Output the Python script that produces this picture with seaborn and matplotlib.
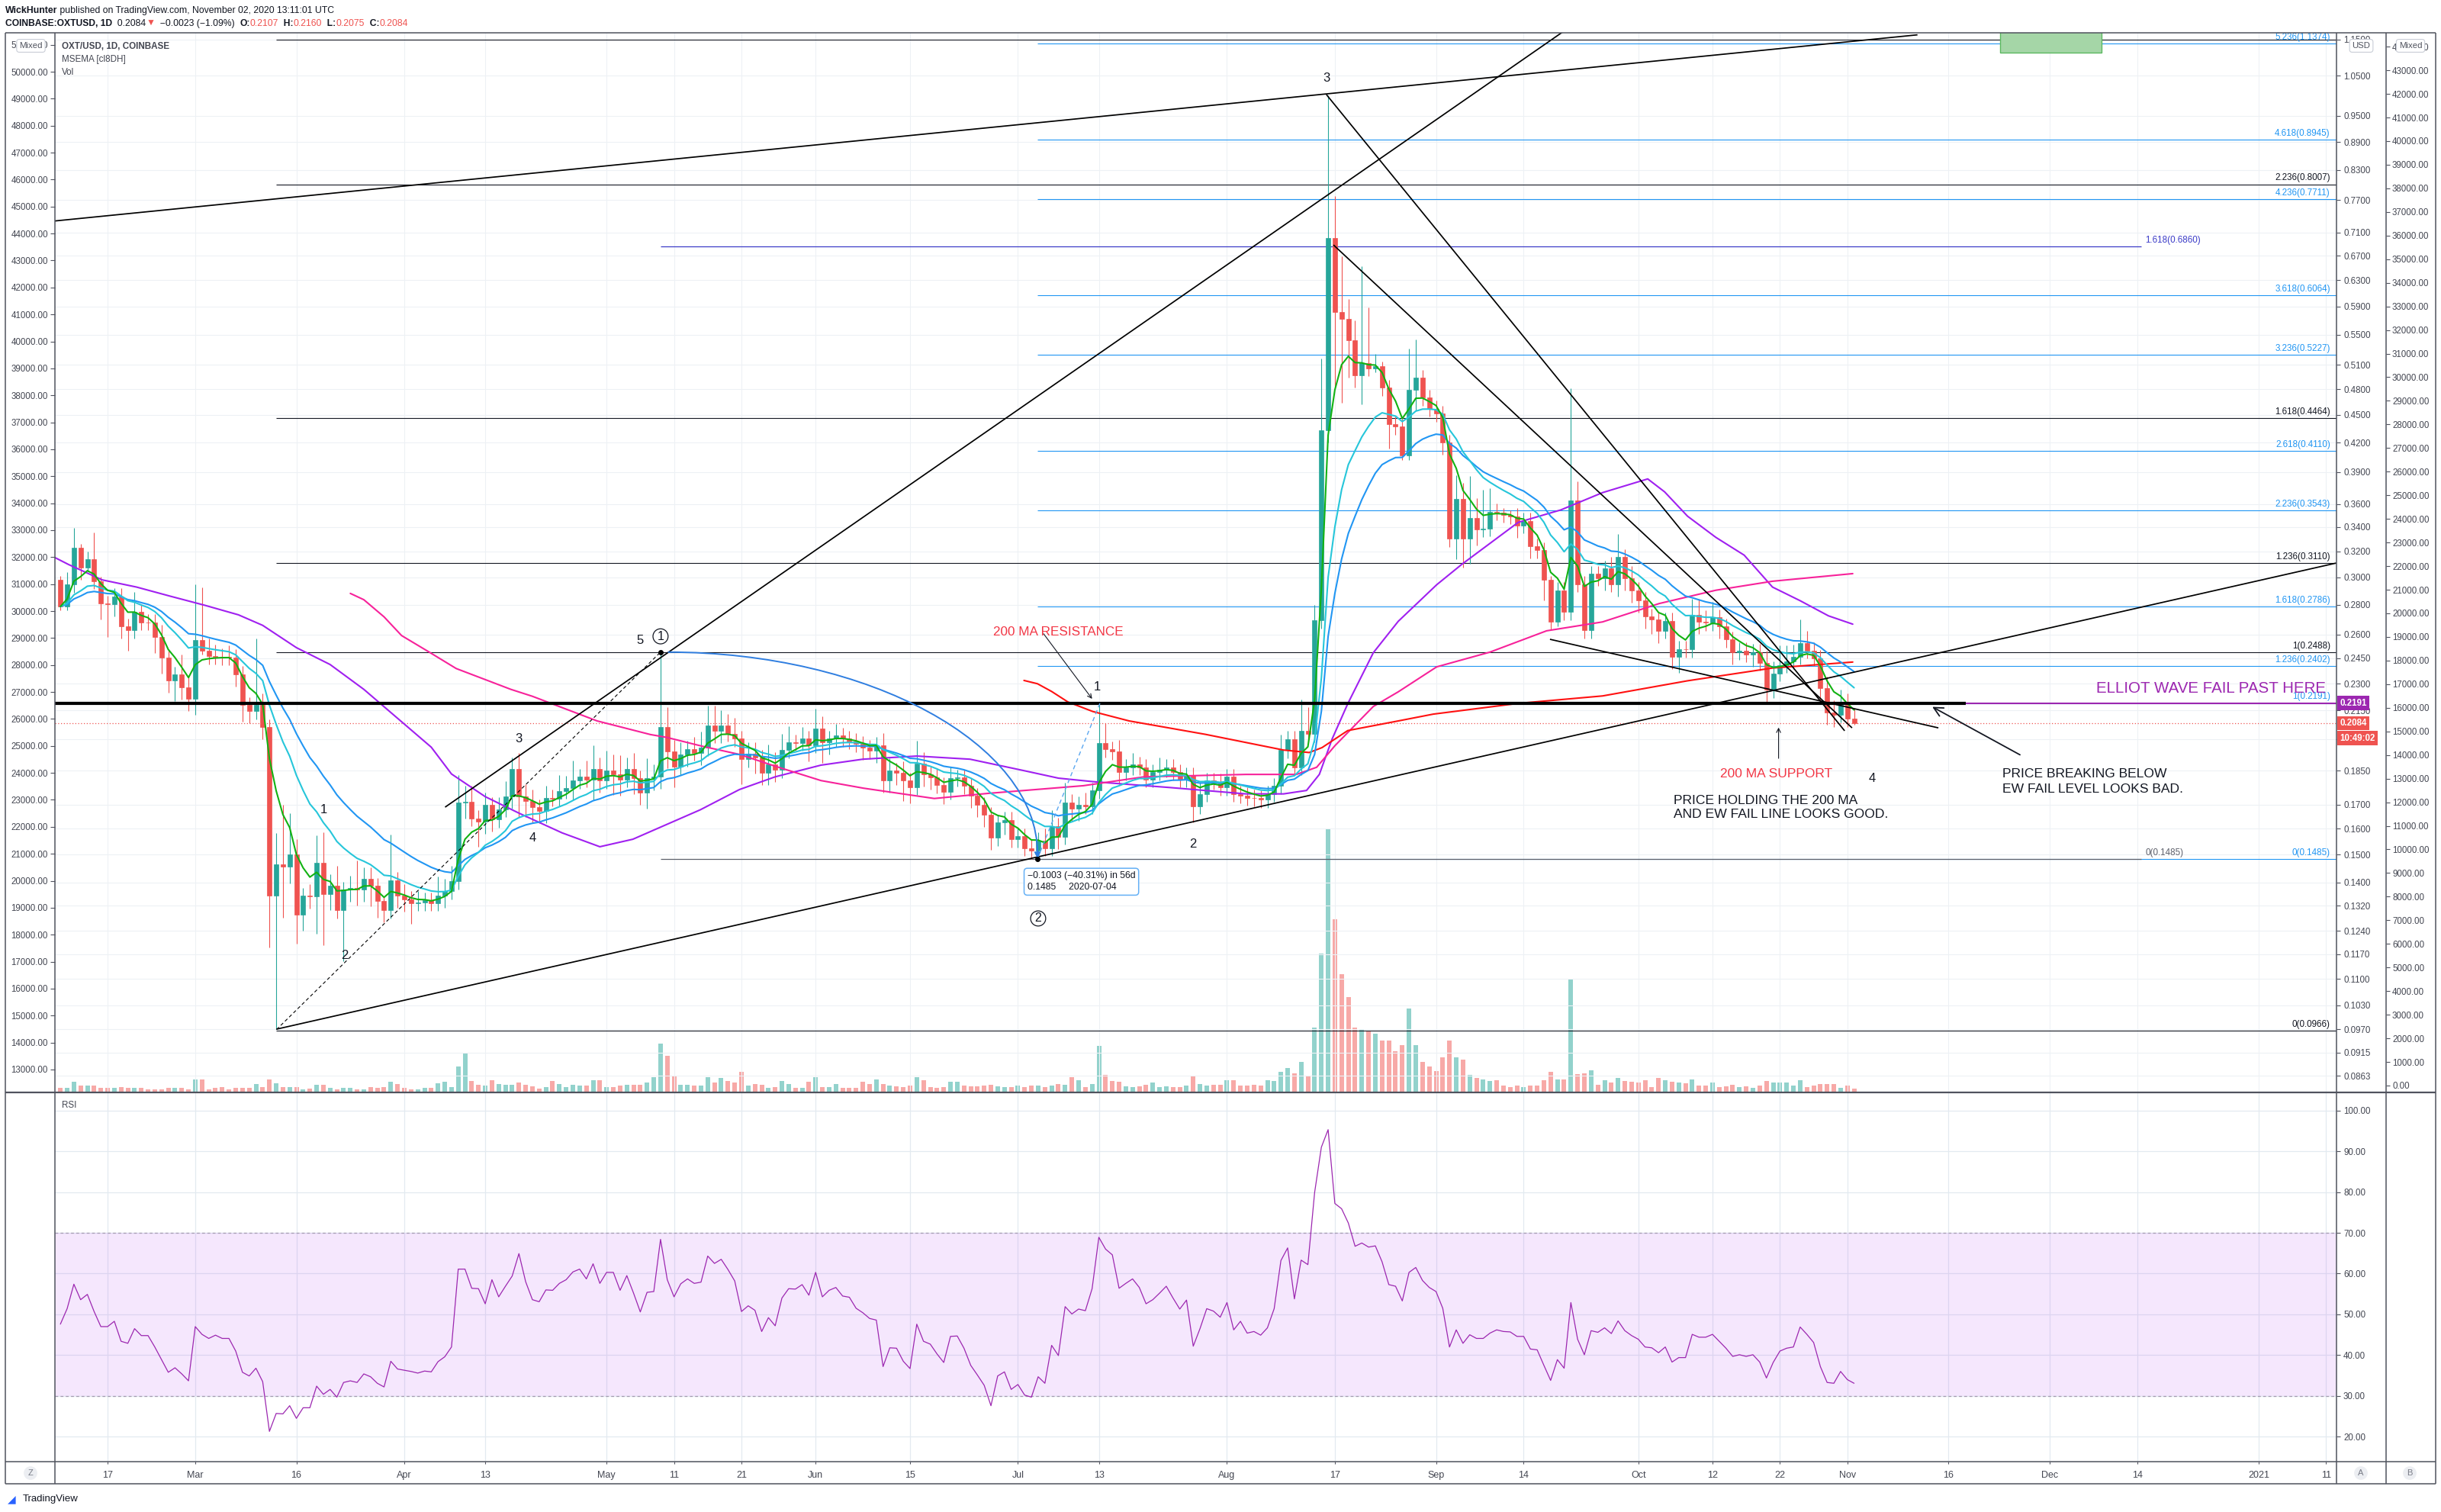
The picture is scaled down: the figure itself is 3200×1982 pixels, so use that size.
import numpy as np
import pandas as pd
import seaborn as sns
import matplotlib
matplotlib.use("Agg")
import matplotlib.pyplot as plt
from matplotlib.path import Path
from matplotlib.patches import PathPatch, Rectangle
from matplotlib.ticker import FixedLocator, FixedFormatter, NullLocator

# ---------------- data (daily OXT/USD candles) ----------------
START = pd.Timestamp("2020-02-10")
FIRST_OPEN = 0.2981

CLOSE = [
    0.2788, 0.2947, 0.3229, 0.3073, 0.3138, 0.2972, 0.2810, 0.2806, 0.2860, 0.2654,
    0.2626, 0.2751, 0.2681, 0.2680, 0.2585, 0.2455, 0.2318, 0.2353, 0.2278, 0.2214,
    0.2564, 0.2498, 0.2463, 0.2460, 0.2458, 0.2455, 0.2355, 0.2180, 0.2148, 0.2180,
    0.2062, 0.1353, 0.1465, 0.1455, 0.1500, 0.1291, 0.1353, 0.1352, 0.1470, 0.1360,
    0.1388, 0.1305, 0.1375, 0.1381, 0.1376, 0.1411, 0.1388, 0.1335, 0.1305, 0.1408,
    0.1353, 0.1342, 0.1329, 0.1330, 0.1339, 0.1329, 0.1353, 0.1370, 0.1403, 0.1710,
    0.1712, 0.1643, 0.1629, 0.1699, 0.1638, 0.1681, 0.1734, 0.1858, 0.1735, 0.1715,
    0.1689, 0.1674, 0.1729, 0.1726, 0.1759, 0.1772, 0.1806, 0.1823, 0.1810, 0.1858,
    0.1806, 0.1851, 0.1833, 0.1810, 0.1858, 0.1816, 0.1752, 0.1816, 0.1823, 0.2064,
    0.1941, 0.1869, 0.1927, 0.1954, 0.1935, 0.1960, 0.2071, 0.2044, 0.2071, 0.2030,
    0.2005, 0.1904, 0.1930, 0.1912, 0.1840, 0.1880, 0.1854, 0.1949, 0.1986, 0.1984,
    0.2005, 0.1972, 0.2056, 0.1986, 0.2005, 0.2020, 0.2005, 0.1991, 0.1979, 0.1960,
    0.1945, 0.1972, 0.1806, 0.1851, 0.1840, 0.1806, 0.1776, 0.1882, 0.1833, 0.1820,
    0.1785, 0.1756, 0.1816, 0.1819, 0.1782, 0.1738, 0.1699, 0.1657, 0.1565, 0.1626,
    0.1636, 0.1559, 0.1571, 0.1525, 0.1515, 0.1554, 0.1525, 0.1611, 0.1569, 0.1710,
    0.1684, 0.1700, 0.1694, 0.1761, 0.1983, 0.1951, 0.1941, 0.1844, 0.1866, 0.1878,
    0.1866, 0.1810, 0.1844, 0.1855, 0.1866, 0.1844, 0.1810, 0.1828, 0.1694, 0.1746,
    0.1806, 0.1800, 0.1774, 0.1822, 0.1746, 0.1739, 0.1729, 0.1727, 0.1721, 0.1746,
    0.1782, 0.1948, 0.2003, 0.1866, 0.2045, 0.2028, 0.2694, 0.4331, 0.7004, 0.5815,
    0.5724, 0.5427, 0.4965, 0.5117, 0.5056, 0.5087, 0.4816, 0.4397, 0.4371, 0.4063,
    0.4787, 0.4935, 0.4700, 0.4571, 0.4516, 0.4199, 0.3302, 0.3651, 0.3302, 0.3480,
    0.3382, 0.3390, 0.3533, 0.3528, 0.3507, 0.3494, 0.3415, 0.3454, 0.3240, 0.3211,
    0.2978, 0.2683, 0.2904, 0.2749, 0.3633, 0.2948, 0.2628, 0.3027, 0.2993, 0.3066,
    0.2948, 0.3155, 0.2993, 0.2904, 0.2833, 0.2718, 0.2700, 0.2624, 0.2690, 0.2460,
    0.2507, 0.2506, 0.2731, 0.2684, 0.2679, 0.2714, 0.2654, 0.2569, 0.2488, 0.2498,
    0.2475, 0.2488, 0.2423, 0.2265, 0.2360, 0.2409, 0.2432, 0.2460, 0.2545, 0.2498,
    0.2451, 0.2273, 0.2140, 0.2129, 0.2180, 0.2107, 0.2084,
]

# wick length above / below the body, in percent of the body edge
WICK_UP = [
    1, 3, 5, 1, 2, 7, 1, 2, 2, 2,
    2, 5, 2, 2, 2, 3, 2, 2, 5, 3,
    15, 14, 3, 3, 2, 3, 2, 2, 2, 18,
    3, 2, 8, 16, 11, 4, 2, 3, 7, 8,
    3, 5, 2, 3, 7, 3, 3, 2, 1, 12,
    2, 3, 2, 3, 2, 2, 5, 3, 4, 7,
    4, 4, 2, 3, 2, 3, 4, 3, 4, 3,
    3, 2, 3, 2, 4, 3, 5, 2, 4, 6,
    3, 5, 4, 5, 3, 4, 2, 5, 3, 20.5,
    5, 3, 3, 2, 3, 4, 5, 5, 4, 3,
    4, 2, 3, 3, 2, 5, 3, 4, 4, 2,
    3, 2, 5, 3, 2, 3, 2, 2, 2, 2,
    2, 2, 3, 3, 2, 3, 2, 6, 3, 2,
    2, 2, 3, 2, 2, 2, 2, 2, 2, 2,
    2, 2, 2, 2, 2, 2, 3, 4, 2, 5,
    2, 2, 3, 2, 10.5, 5, 2, 3, 2, 3,
    2, 2, 2, 3, 2, 2, 2, 2, 2, 3,
    2, 2, 2, 2, 2, 2, 2, 2, 2, 2,
    2, 4, 2, 2, 8, 6, 4, 19.5, 42.8, 11,
    15, 5, 5, 27.4, 15, 3, 1, 2, 2, 2,
    11, 10, 2, 2, 2, 2, 2, 6, 4, 11,
    5, 10, 6, 2, 1, 1, 2, 2, 2, 2,
    2, 1, 2, 2, 32.4, 5, 2, 2, 2, 2,
    3, 6, 2, 3, 2, 2, 2, 2, 2, 2,
    2, 2, 4, 4, 3, 4, 2, 2, 2, 2,
    2, 2, 2, 3, 3, 5, 4, 3, 6, 3,
    2, 2, 3, 3, 4, 3, 2.5,
]
WICK_DN = [
    1, 1, 2, 3, 1, 2, 4, 8, 3, 3,
    5, 2, 2, 2, 4, 4, 3, 5, 3, 3,
    4, 1, 2, 2, 2, 2, 3, 4, 3, 2,
    3, 12, 28.3, 12, 4, 7, 4, 3, 9, 12,
    4, 2, 12, 3, 4, 3, 5, 4, 3, 2,
    3, 3, 5, 2, 2, 2, 2, 3, 2, 2,
    4, 2, 6, 3, 3, 2, 2, 3, 5, 4,
    4, 3, 3, 2, 2, 2, 3, 2, 2, 5,
    3, 2, 5, 4, 2, 4, 3, 4, 3, 3,
    4, 5, 2, 3, 2, 3, 2, 3, 3, 2,
    2, 6, 2, 4, 3, 3, 3, 2, 2, 2,
    2, 4, 2, 5, 3, 2, 2, 2, 2, 3,
    2, 3, 3, 3, 3, 5, 4, 2, 3, 3,
    2, 3, 2, 2, 2, 3, 3, 3, 3, 2,
    3, 2, 2, 2, 2, 2, 2, 2, 3, 2,
    3, 3, 2, 2, 2, 2, 2, 3, 2, 2,
    2, 2, 2, 2, 2, 2, 2, 2, 4, 2,
    2, 2, 2, 2, 2, 2, 2, 2, 2, 2,
    2, 2, 2, 2, 2, 2, 2, 2, 3, 17,
    19, 9, 3, 7, 2, 1, 2, 6, 2, 1,
    1, 5, 2, 2, 2, 3, 2, 5, 7, 6,
    4, 2, 2, 2, 2, 2, 3, 2, 3, 2,
    5, 2, 1, 2, 2, 2, 2, 2, 2, 3,
    2, 3, 3, 3, 3, 3, 3.5, 3, 2, 3,
    4, 2, 2, 3, 2, 2, 3, 2, 3, 2,
    2, 3, 2, 3, 2, 2, 2, 2, 2, 2,
    2, 3, 3, 3, 2, 2, 0.4,
]

VOLUME = [
    204, 204, 468, 300, 300, 300, 204, 180, 180, 228,
    180, 180, 180, 144, 144, 144, 204, 180, 180, 144,
    564, 540, 144, 180, 216, 120, 180, 180, 180, 372,
    216, 540, 396, 240, 216, 240, 120, 156, 336, 336,
    180, 144, 180, 204, 144, 144, 216, 204, 216, 468,
    360, 204, 144, 144, 204, 180, 396, 444, 216, 1100,
    1680, 480, 336, 300, 504, 360, 324, 324, 420, 324,
    264, 156, 216, 480, 360, 216, 324, 300, 300, 504,
    504, 216, 216, 300, 324, 324, 324, 420, 660, 2070,
    1550, 720, 336, 324, 300, 300, 660, 420, 600, 480,
    420, 876, 300, 360, 324, 180, 240, 480, 360, 180,
    180, 444, 636, 216, 216, 360, 180, 204, 204, 444,
    360, 540, 360, 276, 264, 240, 300, 660, 504, 240,
    180, 240, 456, 456, 300, 264, 264, 300, 336, 264,
    240, 216, 276, 240, 276, 276, 216, 276, 360, 336,
    660, 504, 216, 360, 1970, 744, 480, 456, 264, 216,
    264, 324, 420, 216, 264, 240, 240, 276, 684, 360,
    300, 336, 336, 504, 504, 276, 300, 324, 276, 504,
    480, 876, 1030, 804, 1290, 720, 2740, 5900, 11170, 7360,
    5030, 4060, 2740, 2700, 2600, 2500, 2200, 2200, 1750, 2000,
    3550, 2000, 1300, 1100, 900, 1500, 2200, 1500, 1400, 756,
    600, 540, 480, 504, 300, 216, 300, 216, 276, 276,
    504, 864, 564, 540, 4840, 780, 816, 924, 324, 504,
    420, 600, 500, 450, 420, 504, 216, 600, 504, 450,
    420, 400, 550, 300, 276, 420, 216, 264, 324, 240,
    264, 204, 300, 500, 420, 420, 420, 300, 504, 216,
    300, 360, 360, 360, 180, 276, 156,
]

RSI = [
    47.6, 51.4, 57.4, 53.6, 54.9, 50.7, 47.0, 47.0, 48.3, 43.4,
    42.9, 46.5, 44.8, 44.8, 42.0, 38.9, 35.8, 36.9, 35.4, 33.7,
    47.0, 45.1, 44.1, 44.9, 44.1, 44.1, 41.0, 35.8, 34.9, 36.8,
    33.5, 21.3, 25.7, 25.6, 27.6, 24.5, 27.1, 27.1, 32.4, 30.4,
    31.6, 29.7, 33.3, 33.7, 33.3, 35.4, 34.7, 33.1, 32.2, 38.5,
    36.6, 36.3, 36.0, 35.6, 36.1, 35.9, 38.4, 39.6, 42.0, 61.1,
    61.1, 56.4, 56.3, 52.6, 58.5, 54.3, 56.9, 59.4, 64.9, 58.0,
    53.6, 53.1, 56.0, 55.9, 57.6, 58.5, 60.4, 61.1, 58.7, 62.4,
    57.6, 60.3, 60.3, 55.9, 59.5, 55.2, 50.6, 55.4, 55.6, 68.4,
    58.5, 54.3, 57.5, 58.7, 57.6, 57.9, 64.3, 62.5, 63.5, 61.0,
    58.2, 50.7, 52.1, 51.0, 45.8, 49.2, 47.2, 54.0, 56.3, 56.2,
    57.3, 54.7, 60.3, 54.3, 55.9, 56.6, 54.5, 54.2, 51.5, 50.4,
    49.0, 48.6, 37.2, 41.8, 41.7, 38.5, 36.7, 47.6, 43.4, 42.7,
    40.3, 38.2, 44.6, 44.7, 41.7, 37.5, 35.1, 32.6, 27.6, 34.9,
    35.9, 31.6, 32.8, 30.2, 29.7, 34.7, 33.1, 42.4, 39.9, 51.9,
    50.1, 51.3, 50.9, 56.3, 68.9, 66.0, 64.6, 56.4, 57.6, 58.7,
    56.6, 52.6, 53.6, 55.2, 56.9, 54.0, 51.3, 53.5, 42.2, 46.5,
    51.4, 50.8, 49.3, 52.9, 46.2, 48.3, 45.4, 45.8, 44.9, 46.7,
    51.4, 63.2, 66.3, 53.8, 63.3, 62.2, 79.9, 91.0, 95.3, 77.2,
    75.9, 72.4, 66.7, 67.5, 66.5, 66.8, 62.9, 57.3, 56.9, 53.3,
    60.3, 61.5, 58.3, 56.6, 55.6, 51.5, 42.0, 46.2, 42.9, 45.0,
    44.1, 44.1, 45.4, 46.2, 45.8, 45.7, 44.6, 44.6, 41.5, 41.3,
    37.5, 33.8, 38.9, 36.8, 52.9, 43.9, 40.1, 46.0, 45.6, 46.7,
    45.3, 48.4, 46.0, 44.8, 43.9, 42.0, 41.8, 40.6, 42.0, 38.3,
    39.4, 39.4, 45.1, 44.4, 44.4, 45.1, 43.4, 41.7, 39.7, 40.1,
    39.7, 40.1, 38.3, 34.4, 38.2, 41.0, 41.7, 42.0, 46.9, 45.1,
    43.1, 37.2, 33.3, 33.1, 36.0, 34.0, 33.1,
]

# slow moving averages, read as (day offset, price) vertices
SMA50_PTS = [(-1.0, 0.3156), (1.2, 0.3097), (6.2, 0.2980), (11.3, 0.2927), (16.3, 0.2861),
             (21.4, 0.2797), (26.4, 0.2731), (30.0, 0.2660), (35.0, 0.2516), (40.0, 0.2412),
             (45.0, 0.2267), (50.0, 0.2109), (55.0, 0.1962), (58.0, 0.1835), (63.0, 0.1734),
             (68.0, 0.1664), (74.4, 0.1584), (80.0, 0.1530), (84.9, 0.1559), (88.0, 0.1595),
             (94.9, 0.1678), (100.7, 0.1765), (106.0, 0.1822), (112.8, 0.1876), (119.0, 0.1904),
             (127.0, 0.1919), (134.9, 0.1904), (142.8, 0.1851), (148.0, 0.1816), (153.2, 0.1800),
             (164.5, 0.1774), (175.8, 0.1746), (181.4, 0.1746), (184.8, 0.1761), (186.7, 0.1833),
             (188.6, 0.2003), (190.9, 0.2186), (194.7, 0.2484), (198.4, 0.2687), (204.1, 0.2944),
             (207.8, 0.3097), (216.2, 0.3441), (222.5, 0.3549), (228.7, 0.3706), (235.4, 0.3835),
             (237.9, 0.3713), (241.3, 0.3494), (245.5, 0.3314), (249.7, 0.3170), (253.9, 0.2927),
             (258.0, 0.2829), (262.2, 0.2724), (265.8, 0.2668)]
SMA100_PTS = [(43.0, 0.2881), (45.0, 0.2836), (48.0, 0.2717), (50.6, 0.2593), (54.7, 0.2488),
              (58.7, 0.2388), (62.8, 0.2326), (66.8, 0.2267), (70.0, 0.2228), (79.6, 0.2095),
              (87.5, 0.2025), (90.0, 0.2010), (95.4, 0.1965), (100.7, 0.1927), (106.0, 0.1871),
              (112.8, 0.1805), (119.1, 0.1771), (129.6, 0.1726), (137.5, 0.1748), (151.7, 0.1782),
              (160.7, 0.1822), (175.8, 0.1833), (183.3, 0.1833), (186.3, 0.1866), (189.0, 0.1969),
              (194.7, 0.2172), (198.4, 0.2253), (204.1, 0.2398), (212.0, 0.2488), (220.4, 0.2624),
              (228.7, 0.2683), (237.1, 0.2809), (245.5, 0.2904), (253.9, 0.2970), (265.8, 0.3027)]
SMA200_PTS = [(142.9, 0.2318), (144.9, 0.2299), (147.0, 0.2255), (149.4, 0.2197), (153.1, 0.2145),
              (158.5, 0.2095), (169.8, 0.2026), (181.4, 0.1948), (185.2, 0.1936), (187.1, 0.1960),
              (190.9, 0.2045), (198.4, 0.2095), (203.6, 0.2131), (216.2, 0.2189), (228.7, 0.2230),
              (241.3, 0.2316), (253.9, 0.2391), (265.8, 0.2427)]

PRICE_TICKS = [1.15, 1.05, 0.95, 0.89, 0.83, 0.77, 0.71, 0.67, 0.63, 0.59, 0.55, 0.51, 0.48,
               0.45, 0.42, 0.39, 0.36, 0.34, 0.32, 0.30, 0.28, 0.26, 0.245, 0.23, 0.215, 0.20,
               0.185, 0.17, 0.16, 0.15, 0.14, 0.132, 0.124, 0.117, 0.11, 0.103, 0.097, 0.0915, 0.0863]
LEFT_TICKS = list(range(13000, 52000, 1000))
RIGHT2_TICKS = list(range(0, 45000, 1000))
RSI_TICKS = [20, 30, 40, 50, 60, 70, 80, 90, 100]
DATE_TICKS = [("2020-02-17", "17"), ("2020-03-01", "Mar"), ("2020-03-16", "16"), ("2020-04-01", "Apr"),
              ("2020-04-13", "13"), ("2020-05-01", "May"), ("2020-05-11", "11"), ("2020-05-21", "21"),
              ("2020-06-01", "Jun"), ("2020-06-15", "15"), ("2020-07-01", "Jul"), ("2020-07-13", "13"),
              ("2020-08-01", "Aug"), ("2020-08-17", "17"), ("2020-09-01", "Sep"), ("2020-09-14", "14"),
              ("2020-10-01", "Oct"), ("2020-10-12", "12"), ("2020-10-22", "22"), ("2020-11-01", "Nov"),
              ("2020-11-16", "16"), ("2020-12-01", "Dec"), ("2020-12-14", "14"), ("2021-01-01", "2021"),
              ("2021-01-11", "11")]

# fib tools (level name, price)
BLACK_FIB = [("0", 0.0966), ("1", 0.2488), ("1.236", 0.3110), ("1.618", 0.4464), ("2.236", 0.8007), ("", 1.1499)]
BLUE_FIB = [("0", 0.1485), ("1", 0.2191), ("1.236", 0.2402), ("1.618", 0.2786), ("2.236", 0.3543),
            ("2.618", 0.4110), ("3.236", 0.5227), ("3.618", 0.6064), ("4.236", 0.7711),
            ("4.618", 0.8945), ("5.236", 1.1374)]
DARK_FIB = [("0", 0.1485, "#5d606b"), ("1.618", 0.6860, "#3c3cc8")]
EW_FAIL = 0.2191
LAST = 0.2084

# drawings: (day offset, price) anchors
TRENDS = [((-1.0, 0.7303), (275.4, 1.1630)),
          ((57.05, 0.1689), (223.1, 1.1756)),
          ((32.05, 0.0970), (337.5, 0.3108)),
          ((187.75, 1.0017), (264.6, 0.2044)),
          ((188.8, 0.6880), (265.7, 0.2059)),
          ((220.9, 0.2569), (278.5, 0.2059))]
WAVE_LABELS = [("3", 187.75, 1.0445), ("1", 39.0, 0.1677), ("2", 42.2, 0.1165), ("3", 68.0, 0.2005),
               ("4", 70.0, 0.1565), ("5", 86.0, 0.2563), ("1", 153.8, 0.2282), ("2", 167.9, 0.1541),
               ("4", 268.7, 0.1816)]
CIRCLED = [("1", 89.0, 0.2588), ("2", 145.0, 0.1279)]

INK = "#131722"
AXC = "#50535e"
UP, DOWN = "#26a69a", "#ef5350"
VUP, VDOWN = "#92d2cc", "#f7a9a7"
GRID = "#edf1f5"
RED_TXT = "#f23645"

# ---------------- prepare ----------------
df = pd.DataFrame({"close": CLOSE, "up_pct": WICK_UP, "dn_pct": WICK_DN,
                   "volume": VOLUME, "rsi": RSI})
df["day"] = np.arange(len(df))
df["open"] = df["close"].shift(1).fillna(FIRST_OPEN)
body_top = df[["open", "close"]].max(axis=1)
body_bot = df[["open", "close"]].min(axis=1)
df["high"] = body_top * (1 + df["up_pct"] / 100)
df["low"] = body_bot * (1 - df["dn_pct"] / 100)
rising = df["close"] >= df["open"]
ccol = np.where(rising, UP, DOWN)
vcol = np.where(rising, VUP, VDOWN)


def day(s):
    return (pd.Timestamp(s) - START) / pd.Timedelta(days=1)


W, H = 3200, 1982


def frac(x0, y0, x1, y1):
    return [x0 / W, 1 - y1 / H, (x1 - x0) / W, (y1 - y0) / H]


XLIM = (-0.81, 337.54)
PRICE_LIM = (0.08282, 1.1689)
RSI_LIM = (13.88, 104.43)

sns.set_theme(style="white", context="paper")
plt.rcParams["font.family"] = ["Liberation Sans", "DejaVu Sans"]
plt.rcParams["axes.unicode_minus"] = True

fig = plt.figure(figsize=(32, 19.82), dpi=100)
fig.patch.set_facecolor("white")

# volume pane (below the price axes)
ax_v = fig.add_axes(frac(72, 43, 3063, 1432))
ax_v.set_xlim(XLIM)
ax_v.set_ylim(0, 45000)
ax_v.bar(df["day"], df["volume"], width=0.68, color=vcol, linewidth=0)
ax_v.set_xticks([])
ax_v.set_yticks([])
for s in ax_v.spines.values():
    s.set_visible(False)

# price pane
ax_p = fig.add_axes(frac(72, 43, 3063, 1432))
ax_p.patch.set_alpha(0)
ax_p.set_yscale("log")
ax_p.set_xlim(XLIM)
ax_p.set_ylim(PRICE_LIM)
date_pos = [day(d) for d, _ in DATE_TICKS]
ax_p.set_xticks(date_pos)
ax_p.yaxis.set_major_locator(FixedLocator(PRICE_TICKS))
ax_p.yaxis.set_major_formatter(FixedFormatter([f"{t:.4f}" for t in PRICE_TICKS]))
ax_p.yaxis.set_minor_locator(NullLocator())
ax_p.grid(True, color=GRID, linewidth=0.8)
ax_p.set_axisbelow(True)
ax_p.tick_params(axis="x", which="both", bottom=False, top=False, labelbottom=False)
ax_p.tick_params(axis="y", which="major", left=False, right=True, labelleft=False, labelright=True,
                 direction="out", length=3.6, width=0.8, color=AXC, labelcolor="#434651",
                 labelsize=8.3, pad=2.9)
for s in ax_p.spines.values():
    s.set_visible(False)

# fib levels
x0 = day("2020-03-13")
for name, lvl in BLACK_FIB:
    ax_p.hlines(lvl, x0, XLIM[1], color=INK, linewidth=0.8, zorder=2)
    if name:
        ax_p.annotate(f"{name}({lvl:.4f})", (336.6, lvl), xytext=(0, 1.5), textcoords="offset points",
                      ha="right", va="bottom", fontsize=8.4, color=INK, zorder=6)
x0 = day("2020-07-04") - 0.1
for name, lvl in BLUE_FIB:
    ax_p.hlines(lvl, x0, XLIM[1], color="#2196f3", linewidth=0.8, zorder=2)
    ax_p.annotate(f"{name}({lvl:.4f})", (336.6, lvl), xytext=(0, 1.5), textcoords="offset points",
                  ha="right", va="bottom", fontsize=8.4, color="#2196f3", zorder=6)
for name, lvl, col in DARK_FIB:
    ax_p.hlines(lvl, day("2020-05-09"), 308.6, color=col, linewidth=0.9, zorder=2)
    ax_p.annotate(f"{name}({lvl:.4f})", (309.2, lvl), xytext=(0, 1.5), textcoords="offset points",
                  ha="left", va="bottom", fontsize=8.4, color=col, zorder=6)

ax_p.add_patch(Rectangle((287.6, 1.1117), 15.1, 0.3, facecolor="#a5d6a7", edgecolor="#5cb860",
                         linewidth=1, zorder=2))

# candles
ax_p.vlines(df["day"], df["low"], df["high"], colors=ccol, linewidth=0.8, zorder=3)
ax_p.bar(df["day"], body_top - body_bot, bottom=body_bot, width=0.68, color=ccol,
         edgecolor=ccol, linewidth=0.5, zorder=3.1)

# moving averages
for pts, col in [(SMA50_PTS, "#a020f0"), (SMA100_PTS, "#f7229a"), (SMA200_PTS, "#ff1111")]:
    sns.lineplot(x=[p[0] for p in pts], y=[p[1] for p in pts], ax=ax_p, color=col,
                 linewidth=1.5, sort=False, zorder=4)
for span, col in [(21, "#2196f3"), (13, "#26c6da"), (5, "#12b212")]:
    ema = df["close"].ewm(span=span, adjust=False).mean()
    sns.lineplot(x=df["day"], y=ema, ax=ax_p, color=col, linewidth=1.5, zorder=4.2)

# horizontal key levels
ax_p.hlines(EW_FAIL, XLIM[0], 282.6, color="black", linewidth=3.0, zorder=5)
ax_p.hlines(EW_FAIL, 282.6, XLIM[1], color="#9c27b0", linewidth=1.5, zorder=5)
ax_p.axhline(LAST, color=DOWN, linestyle=(0, (1, 2)), linewidth=0.9, zorder=2)

# trend lines
for (xa, ya), (xb, yb) in TRENDS:
    ax_p.plot([xa, xb], [ya, yb], color="black", linewidth=1.25, zorder=5, solid_capstyle="butt")
ax_p.plot([32.05, 89.0], [0.0969, 0.2488], color="black", linewidth=0.8, dashes=(4, 3), zorder=5)
ax_p.plot([144.9, 154.2], [0.1485, 0.2193], color="#5ba7f0", linewidth=1.0, dashes=(4, 3), zorder=5)
arc = Path([(90.1, 0.2488), (119.9, 0.2488), (144.9, 0.1978), (144.9, 0.1505)],
           [Path.MOVETO, Path.CURVE4, Path.CURVE4, Path.CURVE4])
ax_p.add_patch(PathPatch(arc, facecolor="none", edgecolor="#2f7ee0", linewidth=1.4, zorder=5))
ax_p.annotate("", xy=(144.9, 0.1485), xytext=(144.9, 0.1530),
              arrowprops=dict(arrowstyle="-|>,head_length=0.5,head_width=0.25", color="#2f7ee0",
                              lw=1.2, shrinkA=0, shrinkB=0), zorder=5)
ax_p.plot([89.0, 144.9], [0.2488, 0.1485], "o", color="black", markersize=4, zorder=6)

# arrows
thin = dict(arrowstyle="->", color=INK, lw=0.8, shrinkA=0, shrinkB=0)
ax_p.annotate("", xy=(153.0, 0.2214), xytext=(145.8, 0.2605), arrowprops=thin, zorder=6)
ax_p.annotate("", xy=(254.8, 0.2061), xytext=(254.8, 0.1908), arrowprops=thin, zorder=6)
ax_p.annotate("", xy=(277.6, 0.2170), xytext=(290.6, 0.1925),
              arrowprops=dict(arrowstyle="->,head_length=0.9,head_width=0.45", color=INK, lw=1.3,
                              shrinkA=0, shrinkB=0), zorder=6)

# text notes
ax_p.text(148.0, 0.2617, "200 MA RESISTANCE", color=RED_TXT, fontsize=12.3, ha="center", va="center", zorder=7)
ax_p.text(254.5, 0.1834, "200 MA SUPPORT", color=RED_TXT, fontsize=12.5, ha="center", va="center", zorder=7)
ax_p.text(239.2, 0.1716, "PRICE HOLDING THE 200 MA", color=INK, fontsize=12.6, va="center", zorder=7)
ax_p.text(239.2, 0.1658, "AND EW FAIL LINE LOOKS GOOD.", color=INK, fontsize=12.6, va="center", zorder=7)
ax_p.text(288.0, 0.1834, "PRICE BREAKING BELOW", color=INK, fontsize=12.6, va="center", zorder=7)
ax_p.text(288.0, 0.1768, "EW FAIL LEVEL LOOKS BAD.", color=INK, fontsize=12.6, va="center", zorder=7)
ax_p.text(301.9, 0.2274, "ELLIOT WAVE FAIL PAST HERE", color="#9c27b0", fontsize=14.8, va="center", zorder=7)
for t, x, y in WAVE_LABELS:
    ax_p.text(x, y, t, color=INK, fontsize=12, ha="center", va="center", zorder=7)
for t, x, y in CIRCLED:
    ax_p.text(x, y, t, color=INK, fontsize=11.5, ha="center", va="center", zorder=7,
              bbox=dict(boxstyle="circle,pad=0.15", facecolor="white", edgecolor=INK, linewidth=0.9))
ax_p.text(143.4, 0.1402, "\u22120.1003 (\u221240.31%) in 56d\n0.1485     2020-07-04", color=INK,
          fontsize=8.8, ha="left", va="center", linespacing=1.3, zorder=7,
          bbox=dict(boxstyle="round,pad=0.35", facecolor="white", edgecolor="#64b0f6", linewidth=1.1))

# price scale badges
badge = dict(xycoords=("axes fraction", "data"), textcoords="offset points", ha="left", va="center",
             fontsize=8.3, color="white", weight="bold", annotation_clip=False, zorder=8)
ax_p.annotate(f"{EW_FAIL:.4f}", xy=(1, EW_FAIL), xytext=(3.4, 0),
              bbox=dict(boxstyle="square,pad=0.28", fc="#9c27b0", ec="none"), **badge)
ax_p.annotate(f"{LAST:.4f}", xy=(1, LAST), xytext=(3.4, 0),
              bbox=dict(boxstyle="square,pad=0.28", fc=DOWN, ec="none"), **badge)
ax_p.annotate("10:49:02", xy=(1, LAST), xytext=(3.4, -14.3),
              bbox=dict(boxstyle="square,pad=0.28", fc=DOWN, ec="none"), **badge)

# left "Mixed" scale
ax_l = fig.add_axes(frac(72, 43, 3063, 1432))
ax_l.patch.set_alpha(0)
ax_l.set_ylim(12150, 51443)
ax_l.set_xticks([])
ax_l.set_yticks(LEFT_TICKS)
ax_l.set_yticklabels([f"{v:.2f}" for v in LEFT_TICKS])
ax_l.tick_params(axis="y", left=True, right=False, direction="out", length=4.3, width=0.8,
                 color=AXC, labelcolor="#434651", labelsize=8.3, pad=2.2)
for s in ax_l.spines.values():
    s.set_visible(False)

# far right "Mixed" scale
ax_fr = fig.add_axes(frac(3063, 43, 3128, 1432))
ax_fr.patch.set_alpha(0)
ax_fr.set_ylim(-291, 44588)
ax_fr.set_xticks([])
ax_fr.yaxis.tick_right()
ax_fr.set_yticks(RIGHT2_TICKS)
ax_fr.set_yticklabels([f"{v:.2f}" for v in RIGHT2_TICKS])
ax_fr.tick_params(axis="y", left=False, right=True, direction="out", length=3.6, width=0.8,
                  color=AXC, labelcolor="#434651", labelsize=8.3, pad=2.2)
for s in ax_fr.spines.values():
    s.set_visible(False)

# RSI pane
ax_r = fig.add_axes(frac(72, 1432, 3063, 1916))
ax_r.set_xlim(XLIM)
ax_r.set_ylim(RSI_LIM)
ax_r.set_yticks(RSI_TICKS)
ax_r.set_yticklabels([f"{v:.2f}" for v in RSI_TICKS])
ax_r.set_xticks(date_pos)
ax_r.set_xticklabels([lab for _, lab in DATE_TICKS])
ax_r.grid(True, color="#e3eaf0", linewidth=0.9)
ax_r.set_axisbelow(True)
ax_r.axhspan(30, 70, color="#b03cf0", alpha=0.12, linewidth=0, zorder=1.5)
for lvl in (30, 70):
    ax_r.axhline(lvl, color="#a39bb0", linestyle=(0, (3, 2.5)), linewidth=0.9, zorder=1.6)
sns.lineplot(x=df["day"], y=df["rsi"], ax=ax_r, color="#9c27b0", linewidth=0.9, zorder=3)
ax_r.set_xlabel("")
ax_r.set_ylabel("")
ax_r.tick_params(axis="y", left=False, right=True, labelleft=False, labelright=True,
                 direction="out", length=3.6, width=0.8, color=AXC, labelcolor="#434651",
                 labelsize=8.3, pad=2.9)
ax_r.tick_params(axis="x", bottom=True, direction="out", length=2.5, width=0.8, color=AXC,
                 labelcolor="#434651", labelsize=9, pad=6)
for s in ax_r.spines.values():
    s.set_visible(False)
ax_p.set_xlabel("")
ax_p.set_ylabel("")

# ---------------- chart chrome, in pixel coordinates ----------------
ax_bg = fig.add_axes([0, 0, 1, 1], zorder=10)
ax_bg.set_xlim(0, W)
ax_bg.set_ylim(H, 0)
ax_bg.axis("off")

frame = [((7, 43), (3193, 43)), ((7, 1432), (3193, 1432)), ((7, 1916), (3193, 1916)),
         ((7, 1945), (3193, 1945)), ((7, 43), (7, 1945)), ((72, 43), (72, 1945)),
         ((3063, 43), (3063, 1945)), ((3128, 43), (3128, 1945)), ((3193, 43), (3193, 1945))]
for (xa, ya), (xb, yb) in frame:
    lw = 1.6 if ya == yb == 1432 else 1.1
    ax_bg.plot([xa, xb], [ya, yb], color=AXC, linewidth=lw, solid_capstyle="butt")

t = ax_bg.text(7, 14, "WickHunter", weight="bold", fontsize=8.8, color=INK, va="center")
ax_bg.annotate(" published on TradingView.com, November 02, 2020 13:11:01 UTC", xy=(1, 0.5),
               xycoords=t, va="center", ha="left", fontsize=8.8, color=INK)
parts = [("COINBASE:OXTUSD, 1D", "bold", INK), ("  0.2084", "normal", INK), ("\u25bc", "normal", DOWN),
         ("  \u22120.0023 (\u22121.09%)  ", "normal", INK), ("O:", "bold", INK), ("0.2107", "normal", DOWN),
         ("  H:", "bold", INK), ("0.2160", "normal", DOWN), ("  L:", "bold", INK),
         ("0.2075", "normal", DOWN), ("  C:", "bold", INK), ("0.2084", "normal", DOWN)]
prev = ax_bg.text(7, 31, parts[0][0], weight=parts[0][1], color=parts[0][2], fontsize=8.7, va="center")
for txt, w, c in parts[1:]:
    prev = ax_bg.annotate(txt, xy=(1, 0.5), xycoords=prev, va="center", ha="left",
                          fontsize=8.7, weight=w, color=c)

ax_bg.text(81, 61, "OXT/USD, 1D, COINBASE", fontsize=8.4, weight="bold", color="#434651", va="center")
ax_bg.text(81, 78, "MSEMA [cl8DH]", fontsize=8.4, color="#434651", va="center")
ax_bg.text(81, 95, "Vol", fontsize=8.4, color="#434651", va="center")
ax_bg.text(81, 1449, "RSI", fontsize=8.4, color="#434651", va="center")

box = dict(boxstyle="round,pad=0.3", facecolor="white", edgecolor="#c9cdd6", linewidth=0.8)
ax_bg.text(40.5, 60, "Mixed", fontsize=8.2, color=AXC, ha="center", va="center", bbox=box)
ax_bg.text(3095.5, 60, "USD", fontsize=8.2, color=AXC, ha="center", va="center", bbox=box)
ax_bg.text(3160, 60, "Mixed", fontsize=8.2, color=AXC, ha="center", va="center", bbox=box)

circ = dict(boxstyle="circle,pad=0.35", facecolor="#eceef2", edgecolor="none")
for x, letter in [(40, "Z"), (3095, "A"), (3159, "B")]:
    ax_bg.text(x, 1931, letter, fontsize=8, color="#787b86", ha="center", va="center", bbox=circ)
ax_bg.text(10, 1965, "\u25e2", fontsize=10, color="#2962ff", ha="left", va="center")
ax_bg.text(30, 1965, "TradingView", fontsize=9.5, color=INK, ha="left", va="center")

fig.savefig("out.png", dpi=100, facecolor="white")
